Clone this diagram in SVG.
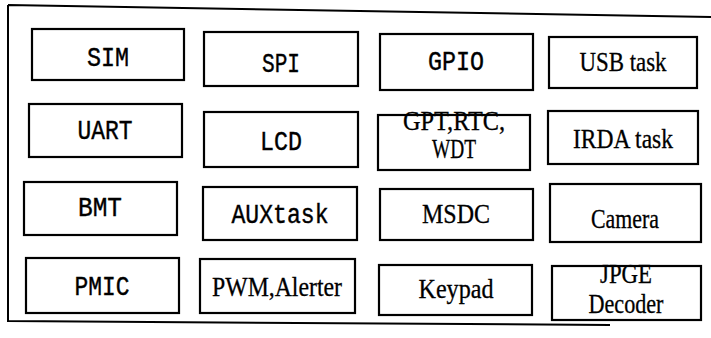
<svg xmlns="http://www.w3.org/2000/svg" width="711" height="338" viewBox="0 0 711 338">
<style>
.frame{fill:none;stroke:#000;stroke-width:2}
.box{fill:#fff;stroke:#000;stroke-width:2.2}
.m{font-family:"Liberation Mono","DejaVu Sans Mono",monospace;font-size:27px;fill:#000;text-anchor:middle;stroke:#000;stroke-width:0.4}
.s{font-family:"Liberation Serif","Times New Roman",serif;font-size:27px;fill:#000;text-anchor:middle;stroke:#000;stroke-width:0.3}
</style>
<g id="frame">
<path class="frame" d="M8,5 L711,17 M8,5 L8,322 M8,321 L610,325"/>
</g>
<g id="connectors"></g>
<g id="SIM"><rect class="box" x="32" y="29" width="152" height="51"/><text class="m" x="108" y="66" textLength="42" lengthAdjust="spacingAndGlyphs">SIM</text></g>
<g id="SPI"><rect class="box" x="204" y="32" width="154" height="54"/><text class="m" x="281" y="72" textLength="38" lengthAdjust="spacingAndGlyphs">SPI</text></g>
<g id="GPIO"><rect class="box" x="380" y="34" width="153" height="56"/><text class="m" x="456" y="70" textLength="56" lengthAdjust="spacingAndGlyphs">GPIO</text></g>
<g id="USB"><rect class="box" x="549" y="37" width="148" height="51"/><text class="s" x="623" y="71" textLength="87" lengthAdjust="spacingAndGlyphs">USB task</text></g>
<g id="UART"><rect class="box" x="29" y="104" width="153" height="53"/><text class="m" x="105" y="139" textLength="55" lengthAdjust="spacingAndGlyphs">UART</text></g>
<g id="LCD"><rect class="box" x="204" y="112" width="154" height="55"/><text class="m" x="281" y="150" textLength="42" lengthAdjust="spacingAndGlyphs">LCD</text></g>
<g id="GPT"><rect class="box" x="378" y="115" width="152" height="55"/><text class="s" x="454" y="130" textLength="102" lengthAdjust="spacingAndGlyphs">GPT,RTC,</text><text class="s" x="454" y="158" textLength="44" lengthAdjust="spacingAndGlyphs">WDT</text></g>
<g id="IRDA"><rect class="box" x="548" y="111" width="150" height="53"/><text class="s" x="623" y="148" textLength="100" lengthAdjust="spacingAndGlyphs">IRDA task</text></g>
<g id="BMT"><rect class="box" x="24" y="182" width="153" height="53"/><text class="m" x="100" y="216" textLength="44" lengthAdjust="spacingAndGlyphs">BMT</text></g>
<g id="AUX"><rect class="box" x="203" y="187" width="154" height="53"/><text class="m" x="280" y="223" textLength="97" lengthAdjust="spacingAndGlyphs">AUXtask</text></g>
<g id="MSDC"><rect class="box" x="380" y="189" width="153" height="51"/><text class="s" x="456" y="223" textLength="68" lengthAdjust="spacingAndGlyphs">MSDC</text></g>
<g id="Camera"><rect class="box" x="550" y="184" width="151" height="58"/><text class="s" x="625" y="228" textLength="68" lengthAdjust="spacingAndGlyphs">Camera</text></g>
<g id="PMIC"><rect class="box" x="26" y="258" width="153" height="55"/><text class="m" x="102" y="295" textLength="55" lengthAdjust="spacingAndGlyphs">PMIC</text></g>
<g id="PWM"><rect class="box" x="200" y="259" width="155" height="54"/><text class="s" x="277" y="296" textLength="130" lengthAdjust="spacingAndGlyphs">PWM,Alerter</text></g>
<g id="Keypad"><rect class="box" x="379" y="265" width="153" height="50"/><text class="s" x="456" y="298" textLength="75" lengthAdjust="spacingAndGlyphs">Keypad</text></g>
<g id="JPGE"><rect class="box" x="552" y="266" width="149" height="54"/><text class="s" x="626" y="283" textLength="52" lengthAdjust="spacingAndGlyphs">JPGE</text><text class="s" x="626" y="313" textLength="75" lengthAdjust="spacingAndGlyphs">Decoder</text></g>
</svg>
